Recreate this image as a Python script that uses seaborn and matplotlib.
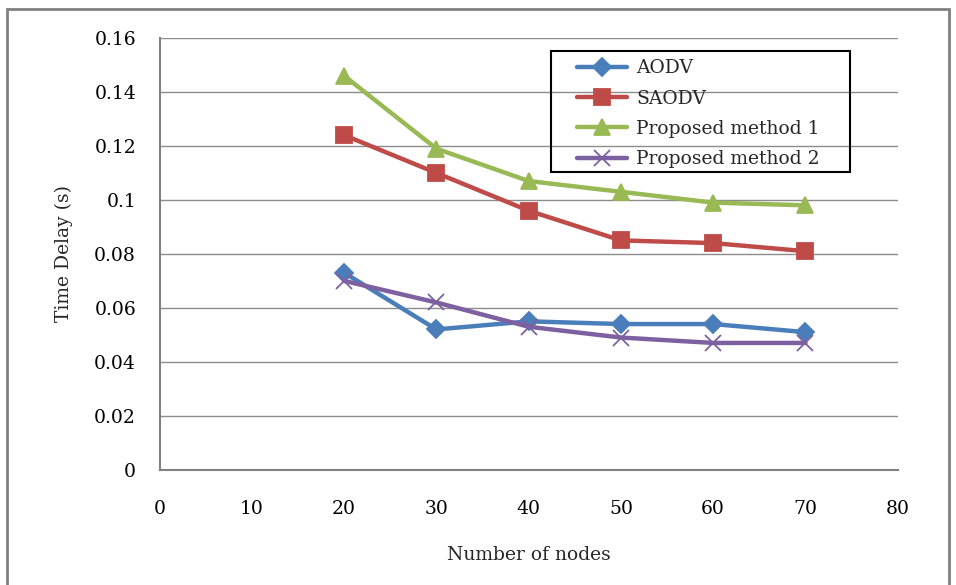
import numpy as np
import matplotlib
matplotlib.use("Agg")
import matplotlib.pyplot as plt
import seaborn as sns
import pandas as pd
from matplotlib.patches import Rectangle

nodes = [20, 30, 40, 50, 60, 70]
aodv = [0.073, 0.052, 0.055, 0.054, 0.054, 0.051]
saodv = [0.124, 0.110, 0.096, 0.085, 0.084, 0.081]
method1 = [0.146, 0.119, 0.107, 0.103, 0.099, 0.098]
method2 = [0.070, 0.062, 0.053, 0.049, 0.047, 0.047]
series_names = ["AODV", "SAODV", "Proposed method 1", "Proposed method 2"]

df = pd.DataFrame({
    "nodes": nodes * 4,
    "delay": aodv + saodv + method1 + method2,
    "series": [s for s in series_names for _ in nodes],
})

sns.set_style("white")
plt.rcParams['font.family'] = ['DejaVu Serif']

fig = plt.figure(figsize=(9.56, 5.85), dpi=100)
ax = fig.add_axes([0.167, 0.197, 0.772, 0.738])

colors = ["#4A7EBB", "#BE4B48", "#98B954", "#7D60A0"]
markers = ["D", "s", "^", "x"]
msizes = [9, 11, 11, 11]
for name, c, m, ms in zip(series_names, colors, markers, msizes):
    sns.lineplot(data=df[df["series"] == name], x="nodes", y="delay", color=c,
                 marker=m, markersize=ms, markeredgecolor=c, markeredgewidth=1.3,
                 linewidth=3.2, label=name, ax=ax)

ax.set_xlim(0, 80)
ax.set_ylim(0, 0.16)
ax.set_xticks(np.arange(0, 81, 10))
ax.set_yticks(np.arange(0, 0.161, 0.02))
ax.set_yticklabels(["0", "0.02", "0.04", "0.06", "0.08", "0.1", "0.12", "0.14", "0.16"])
ax.grid(axis="y", color="#8c8c8c", linewidth=1)
ax.tick_params(axis="both", length=0, labelsize=13.5, colors="black")
ax.tick_params(axis="x", pad=22)
ax.tick_params(axis="y", pad=17)
for side in ["top", "right"]:
    ax.spines[side].set_visible(False)
for side in ["left", "bottom"]:
    ax.spines[side].set_color("#808080")
    ax.spines[side].set_linewidth(1.5)

ax.set_xlabel("Number of nodes", fontsize=13.5, labelpad=20)
ax.set_ylabel("Time Delay (s)", fontsize=13.5, labelpad=15)

handles, labels = ax.get_legend_handles_labels()
leg = ax.legend(handles, labels, loc="upper left", bbox_to_anchor=(0.566, 0.951),
                fontsize=13.5, frameon=False, handlelength=2.67, handletextpad=0.45,
                borderpad=0, borderaxespad=0, labelspacing=0.66)
ax.add_patch(Rectangle((0.530, 0.690), 0.406, 0.280, transform=ax.transAxes,
                       fill=False, edgecolor="black", linewidth=1.5, zorder=5))

fig.patches.append(Rectangle((0.007, -0.01), 0.986, 0.995, transform=fig.transFigure,
                             fill=False, edgecolor="#808080", linewidth=2))

fig.savefig("out.png", dpi=100)
